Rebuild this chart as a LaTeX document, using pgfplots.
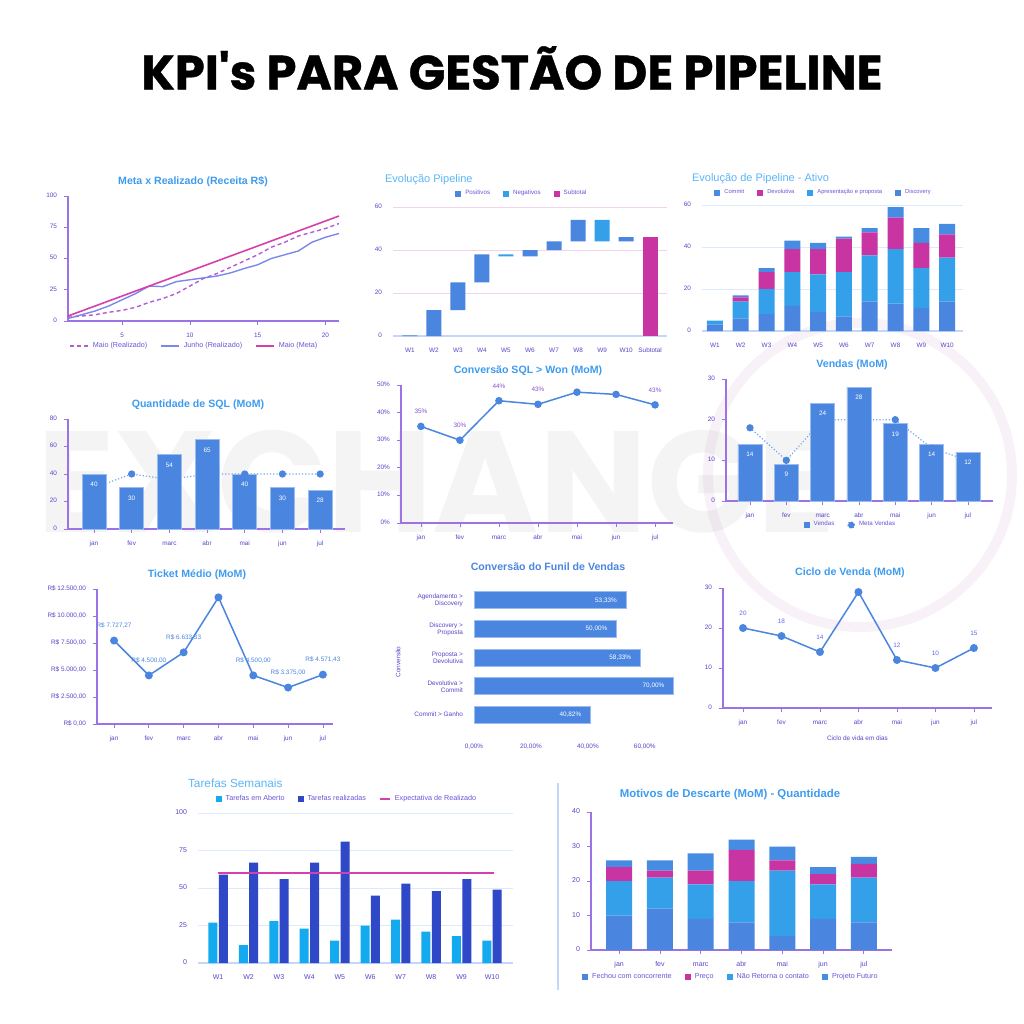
\documentclass[border=0pt]{standalone}
\usepackage{pgfplots}
\pgfplotsset{compat=1.18}
\usepackage{fontspec}
\setmainfont{Liberation Sans}
\newfontfamily\titlefont{Poppins}[BoldFeatures={FakeBold=0.8}]
\newfontfamily\markfont{Poppins}

\definecolor{barblue}{RGB}{74,134,224}
\definecolor{midblue}{RGB}{52,160,234}
\definecolor{kmag}{RGB}{200,52,162}
\definecolor{metamag}{RGB}{214,64,170}
\definecolor{dashpurp}{RGB}{178,92,214}
\definecolor{junho}{RGB}{125,135,235}
\definecolor{dotblue}{RGB}{115,168,240}
\definecolor{taskl}{RGB}{20,170,240}
\definecolor{taskd}{RGB}{46,72,200}
\definecolor{ttlblue}{RGB}{62,156,240}
\definecolor{ttlblue2}{RGB}{92,182,246}
\definecolor{tickpurp}{RGB}{88,70,200}
\definecolor{legpurp}{RGB}{105,85,215}
\definecolor{axpurp}{RGB}{155,115,228}
\definecolor{gridblue}{RGB}{220,234,252}
\definecolor{gridpink}{RGB}{245,210,235}
\definecolor{lineblue}{RGB}{196,214,250}
\definecolor{labpurp}{RGB}{140,80,210}

\newcommand\tk{\fontsize{3.2}{3.6}\selectfont}
\newcommand\tkb{\fontsize{3.5}{4}\selectfont}
\newcommand\lgs{\fontsize{3.1}{4}\selectfont}
\newcommand\lgbs{\fontsize{3.6}{4}\selectfont}
\newcommand\ttl{\fontsize{5.3}{6}\selectfont\bfseries}
\newcommand\ttr{\fontsize{5.5}{6}\selectfont}

\pgfplotsset{
  kpi/.style={
    scale only axis, anchor=south west,
    /pgf/number format/assume math mode=true,
    axis x line*=bottom, axis y line*=left,
    axis line style={axpurp, line width=0.6pt},
    tick style={axpurp, line width=0.4pt},
    major tick length=2pt, tick align=outside,
    tick label style={font=\tk, text=tickpurp},
    typeset ticklabels with strut,
    legend columns=-1,
    legend style={draw=none, fill=none, font=\lgs, text=legpurp, anchor=center,
      /tikz/every even column/.append style={column sep=4.5pt}},
    clip=false,
  },
  sqleg/.style={legend image code/.code={\draw[##1,/tikz/.cd,draw=none] (0pt,-1.5pt) rectangle (3pt,1.5pt);}},
}

\begin{document}
\begin{tikzpicture}[x=0.5pt,y=-0.5pt]
\fill[white] (0,0) rectangle (1024,1024);
% watermark
\node[font={\markfont\bfseries\fontsize{72}{72}\selectfont}, text=black, text opacity=0.045, anchor=west] at (30,482) {EXCHANGE};
\draw[violet, opacity=0.05, line width=5pt] (860,475) circle[radius=76pt];

\node[font={\titlefont\bfseries\fontsize{24}{26}\selectfont}] at (512,68) {KPI's PARA GESTÃO DE PIPELINE};

\coordinate (c1) at (68,321);
\coordinate (c2) at (393,336);
\coordinate (c3) at (702,331);
\coordinate (c4) at (68,529);
\coordinate (c5) at (401,523);
\coordinate (c6) at (726,501);
\coordinate (c7) at (97,724);
\coordinate (c8) at (474,732);
\coordinate (c9) at (723,708);
\coordinate (c10) at (198,963);
\coordinate (c11) at (591,950);

% titles
\node[font=\ttl, text=ttlblue] at (193,182) {Meta x Realizado (Receita R\$)};
\node[font=\ttr, text=ttlblue2, anchor=west] at (378,180) {Evolução Pipeline};
\node[font=\ttr, text=ttlblue2, anchor=west] at (685,179) {Evolução de Pipeline - Ativo};
\node[font=\ttl, text=ttlblue] at (198,405) {Quantidade de SQL (MoM)};
\node[font=\ttl, text=ttlblue] at (528,371) {Conversão SQL > Won (MoM)};
\node[font=\ttl, text=ttlblue] at (852,365) {Vendas (MoM)};
\node[font=\ttl, text=ttlblue] at (197,575) {Ticket Médio (MoM)};
\node[font=\ttl, text=barblue] at (548,567) {Conversão do Funil de Vendas};
\node[font=\ttl, text=ttlblue] at (850,573) {Ciclo de Venda (MoM)};
\node[font={\fontsize{5.9}{7}\selectfont}, text=ttlblue2, anchor=west] at (181,783) {Tarefas Semanais};
\node[font={\fontsize{5.7}{7}\selectfont\bfseries}, text=ttlblue] at (730,795) {Motivos de Descarte (MoM) - Quantidade};
\draw[lineblue, line width=0.6pt] (558,783) -- (558,990);

% 1 Meta x Realizado
\begin{axis}[kpi, at={(c1)}, width=135.5pt, height=62.5pt,
  xmin=1, xmax=21, ymin=0, ymax=100,
  xtick={5,10,15,20}, ytick={0,25,50,75,100},
  legend style={at={(0.47,-0.2)}, font={\fontsize{3.6}{4}\selectfont}},
  legend image code/.code={\draw[#1] (0pt,0pt) -- (9pt,0pt);}]
\addplot[dashpurp, line width=0.7pt, dash pattern=on 2pt off 1.5pt] coordinates {(1,3)(2,4)(3,5)(4,7)(5,8.5)(6,11)(7,15)(8,18)(9,22)(10,28)(11,34)(12,38)(13,43)(14,48)(15,53)(16,59)(17,63)(18,68)(19,71)(20,74)(21,78)};
\addplot[junho, line width=0.7pt] coordinates {(1,2)(2,5)(3,8)(4,12)(5,17)(6,22)(7,28)(8,27.5)(9,31.5)(10,33)(11,34.5)(12,36)(13,38.5)(14,42)(15,45)(16,50)(17,53)(18,56)(19,63)(20,67)(21,70)};
\addplot[metamag, line width=0.8pt] coordinates {(1,4)(5,20)(10,40)(15,60)(21,84)};
\legend{Maio (Realizado), Junho (Realizado), Maio (Meta)}
\end{axis}

% 2 Evolucao Pipeline
\begin{axis}[kpi, at={(c2)}, width=137pt, height=64.5pt,
  ybar stacked, bar width=7.5pt,
  xmin=-0.7, xmax=10.7, ymin=0, ymax=60, ytick={0,20,40,60},
  xtick={0,...,10}, xticklabels={W1,W2,W3,W4,W5,W6,W7,W8,W9,W10,Subtotal},
  ymajorgrids, grid style={gridpink, line width=0.5pt},
  y axis line style={draw=none}, tick style={draw=none}, x axis line style={lineblue},
  legend style={at={(0.474,1.10)}}, sqleg]
\addplot[forget plot, draw=none, fill=none] coordinates {(0,0)(1,0)(2,12)(3,25)(4,37)(5,37)(6,40)(7,44)(8,44)(9,44)(10,0)};
\addplot[fill=barblue, draw=none] coordinates {(0,0.3)(1,12)(2,13)(3,13)(4,0)(5,3)(6,4)(7,10)(8,0)(9,2)(10,0)};
\addplot[fill=midblue, draw=none] coordinates {(0,0)(1,0)(2,0)(3,0)(4,1)(5,0)(6,0)(7,0)(8,10)(9,0)(10,0)};
\addplot[fill=kmag, draw=none] coordinates {(0,0)(1,0)(2,0)(3,0)(4,0)(5,0)(6,0)(7,0)(8,0)(9,0)(10,46)};
\legend{Positivos, Negativos, Subtotal}
\end{axis}

% 3 Evolucao de Pipeline - Ativo
\begin{axis}[kpi, at={(c3)}, width=130.3pt, height=63pt,
  ybar stacked, bar width=8pt,
  xmin=-0.5, xmax=9.6, ymin=0, ymax=60, ytick={0,20,40,60},
  xtick={0,...,9}, xticklabels={W1,W2,W3,W4,W5,W6,W7,W8,W9,W10},
  ymajorgrids, grid style={gridblue, line width=0.5pt},
  y axis line style={draw=none}, tick style={draw=none}, x axis line style={lineblue},
  legend style={at={(0.47,1.095)}, font={\fontsize{2.9}{4}\selectfont}}, reverse legend, sqleg]
\addplot[fill=barblue, draw=none] coordinates {(0,3)(1,6)(2,8)(3,12)(4,9)(5,7)(6,14)(7,13)(8,11)(9,14)};
\addplot[fill=midblue, draw=none] coordinates {(0,2)(1,8)(2,12)(3,16)(4,18)(5,21)(6,22)(7,26)(8,19)(9,21)};
\addplot[fill=kmag, draw=none] coordinates {(0,0)(1,2)(2,8)(3,11)(4,12)(5,16)(6,11)(7,15)(8,12)(9,11)};
\addplot[fill=barblue!95!cyan, draw=none] coordinates {(0,0)(1,1)(2,2)(3,4)(4,3)(5,1)(6,2)(7,5)(8,7)(9,5)};
\legend{Discovery, Apresentação e proposta, Devolutiva, Commit}
\end{axis}

% 4 Quantidade de SQL
\begin{axis}[kpi, at={(c4)}, width=138.5pt, height=55pt,
  xmin=-0.69, xmax=6.66, ymin=0, ymax=80, ytick={0,20,40,60,80},
  xtick={0,...,6}, xticklabels={jan,fev,marc,abr,mai,jun,jul}]
\addplot[dotblue, densely dotted, line width=0.6pt, mark=*, mark size=1.5pt, mark options={solid, fill=barblue, draw=barblue}] coordinates {(0,30)(1,40)(2,36)(3,40)(4,40)(5,40)(6,40)};
\addplot[ybar, bar width=12pt, fill=barblue, draw=barblue!55!white, line width=0.3pt,
  nodes near coords, every node near coord/.append style={anchor=north, text=white, font=\tk, yshift=-0.5pt}] coordinates {(0,40)(1,30)(2,54)(3,65)(4,40)(5,30)(6,28)};
\end{axis}

% 5 Conversao SQL > Won
\begin{axis}[kpi, at={(c5)}, width=136pt, height=69pt,
  xmin=-0.51, xmax=6.46, ymin=0, ymax=50, ytick={0,10,20,30,40,50},
  yticklabels={0\%,10\%,20\%,30\%,40\%,50\%},
  xtick={0,...,6}, xticklabels={jan,fev,marc,abr,mai,jun,jul}]
\addplot[barblue, line width=0.75pt, mark=*, mark size=1.5pt,
  nodes near coords, point meta=explicit symbolic,
  every node near coord/.append style={anchor=south, yshift=2.5pt, text=labpurp, font=\tk}]
  coordinates {(0,35)[35\%] (1,30)[30\%] (2,44.3)[44\%] (3,43)[43\%] (4,47.4)[] (5,46.6)[] (6,42.8)[43\%]};
\end{axis}

% 6 Vendas
\begin{axis}[kpi, at={(c6)}, width=133.5pt, height=61pt,
  xmin=-0.66, xmax=6.69, ymin=0, ymax=30, ytick={0,10,20,30},
  xtick={0,...,6}, xticklabels={jan,fev,marc,abr,mai,jun,jul},
  legend style={at={(0.47,-0.197)}}, reverse legend]
\addplot[dotblue, densely dotted, line width=0.6pt, mark=*, mark size=1.5pt, mark options={solid, fill=barblue, draw=barblue},
  legend image code/.code={\fill[barblue] (1.5pt,0pt) circle (1.6pt);}] coordinates {(0,18)(1,10)(2,20)(3,20)(4,20)(5,13)(6,10)};
\addplot[ybar, bar width=12pt, fill=barblue, draw=barblue!55!white, line width=0.3pt, sqleg,
  nodes near coords, every node near coord/.append style={anchor=north, text=white, font=\tk, yshift=-0.5pt}] coordinates {(0,14)(1,9)(2,24)(3,28)(4,19)(5,14)(6,12)};
\legend{Meta Vendas, Vendas}
\end{axis}

% 7 Ticket Medio
\begin{axis}[kpi, at={(c7)}, width=118pt, height=67.5pt,
  xmin=-0.49, xmax=6.29, ymin=0, ymax=12500, ytick={0,2500,5000,7500,10000,12500},
  yticklabels={{R\$ 0,00},{R\$ 2.500,00},{R\$ 5.000,00},{R\$ 7.500,00},{R\$ 10.000,00},{R\$ 12.500,00}},
  scaled ticks=false,
  xtick={0,...,6}, xticklabels={jan,fev,marc,abr,mai,jun,jul}]
\addplot[barblue, line width=0.75pt, mark=*, mark size=1.6pt,
  nodes near coords, point meta=explicit symbolic,
  every node near coord/.append style={anchor=south, yshift=2.5pt, text=barblue, font=\tk}]
  coordinates {(0,7727.27)[{R\$ 7.727,27}] (1,4500)[{R\$ 4.500,00}] (2,6633.33)[{R\$ 6.633,33}] (3,11730)[] (4,4500)[{R\$ 4.500,00}] (5,3375)[{R\$ 3.375,00}] (6,4571.43)[{R\$ 4.571,43}]};
\end{axis}

% 8 Funil
\begin{axis}[kpi, at={(c8)}, width=102.5pt, height=74.5pt,
  xbar, bar width=8.5pt,
  xmin=0, xmax=72, ymin=-0.6, ymax=4.6,
  xtick={0,20,40,60}, xticklabels={{0,00\%},{20,00\%},{40,00\%},{60,00\%}},
  ytick={0,...,4},
  yticklabels={{Commit > Ganho},{Devolutiva >\\Commit},{Proposta >\\Devolutiva},{Discovery >\\Proposta},{Agendamento >\\Discovery}},
  yticklabel style={align=right},
  axis line style={draw=none}, tick style={draw=none},
  ylabel={Conversão}, ylabel style={font=\tk, text=tickpurp, at={(axis description cs:-0.37,0.47)}, anchor=center}]
\addplot[fill=barblue, draw=barblue!55!white, line width=0.3pt,
  nodes near coords, point meta=explicit symbolic,
  every node near coord/.append style={anchor=east, text=white, font=\tk, xshift=-1pt}]
  coordinates {(40.82,0)[{40,82\%}] (70,1)[{70,00\%}] (58.33,2)[{58,33\%}] (50,3)[{50,00\%}] (53.33,4)[{53,33\%}]};
\end{axis}

% 9 Ciclo de Venda
\begin{axis}[kpi, at={(c9)}, width=134.5pt, height=60pt,
  xmin=-0.52, xmax=6.47, ymin=0, ymax=30, ytick={0,10,20,30},
  xtick={0,...,6}, xticklabels={jan,fev,marc,abr,mai,jun,jul},
  xlabel={Ciclo de vida em dias}, xlabel style={font=\tk, text=tickpurp, yshift=2pt}]
\addplot[barblue, line width=0.75pt, mark=*, mark size=1.6pt,
  nodes near coords, point meta=explicit symbolic,
  every node near coord/.append style={anchor=south, yshift=2.5pt, text=junho!80!blue, font=\tk}]
  coordinates {(0,20)[20] (1,18)[18] (2,14)[14] (3,29)[] (4,12)[12] (5,10)[10] (6,15)[15]};
\end{axis}

% 10 Tarefas Semanais
\begin{axis}[kpi, at={(c10)}, width=157.5pt, height=75pt,
  xmin=-0.66, xmax=9.69, ymin=0, ymax=100, ytick={0,25,50,75,100},
  xtick={0,...,9}, xticklabels={W1,W2,W3,W4,W5,W6,W7,W8,W9,W10},
  tick label style={font=\tkb},
  ymajorgrids, grid style={gridblue, line width=0.5pt},
  y axis line style={draw=none}, tick style={draw=none}, x axis line style={lineblue},
  legend style={at={(0.476,1.093)}, font=\lgbs}]
\addplot[ybar, bar width=4.5pt, bar shift=-2.6pt, fill=taskl, draw=none, sqleg] coordinates {(0,27)(1,12)(2,28)(3,23)(4,15)(5,25)(6,29)(7,21)(8,18)(9,15)};
\addplot[ybar, bar width=4.5pt, bar shift=2.6pt, fill=taskd, draw=none, sqleg] coordinates {(0,59)(1,67)(2,56)(3,67)(4,81)(5,45)(6,53)(7,48)(8,56)(9,49)};
\addplot[metamag, line width=0.8pt, legend image code/.code={\draw[metamag, line width=1pt] (0pt,0pt) -- (5pt,0pt);}] coordinates {(0,60)(3,60)(6,60)(9.05,60)};
\legend{Tarefas em Aberto, Tarefas realizadas, Expectativa de Realizado}
\end{axis}

% 11 Motivos de Descarte
\begin{axis}[kpi, at={(c11)}, width=150.5pt, height=69pt,
  ybar stacked, bar width=13pt,
  xmin=-0.69, xmax=6.69, ymin=0, ymax=40, ytick={0,10,20,30,40},
  xtick={0,...,6}, xticklabels={jan,fev,marc,abr,mai,jun,jul},
  tick label style={font=\tkb},
  legend style={at={(0.468,-0.196)}, font=\lgbs}, sqleg]
\addlegendimage{fill=barblue, draw=none}
\addlegendimage{fill=kmag, draw=none}
\addlegendimage{fill=midblue, draw=none}
\addlegendimage{fill=barblue!95!cyan, draw=none}
\addplot[forget plot, fill=barblue, draw=none] coordinates {(0,10)(1,12)(2,9)(3,8)(4,4)(5,9)(6,8)};
\addplot[forget plot, fill=midblue, draw=none] coordinates {(0,10)(1,9)(2,10)(3,12)(4,19)(5,10)(6,13)};
\addplot[forget plot, fill=kmag, draw=none] coordinates {(0,4)(1,2)(2,4)(3,9)(4,3)(5,3)(6,4)};
\addplot[forget plot, fill=barblue!95!cyan, draw=none] coordinates {(0,2)(1,3)(2,5)(3,3)(4,4)(5,2)(6,2)};
\legend{Fechou com concorrente, Preço, Não Retorna o contato, Projeto Futuro}
\end{axis}
\end{tikzpicture}
\end{document}
